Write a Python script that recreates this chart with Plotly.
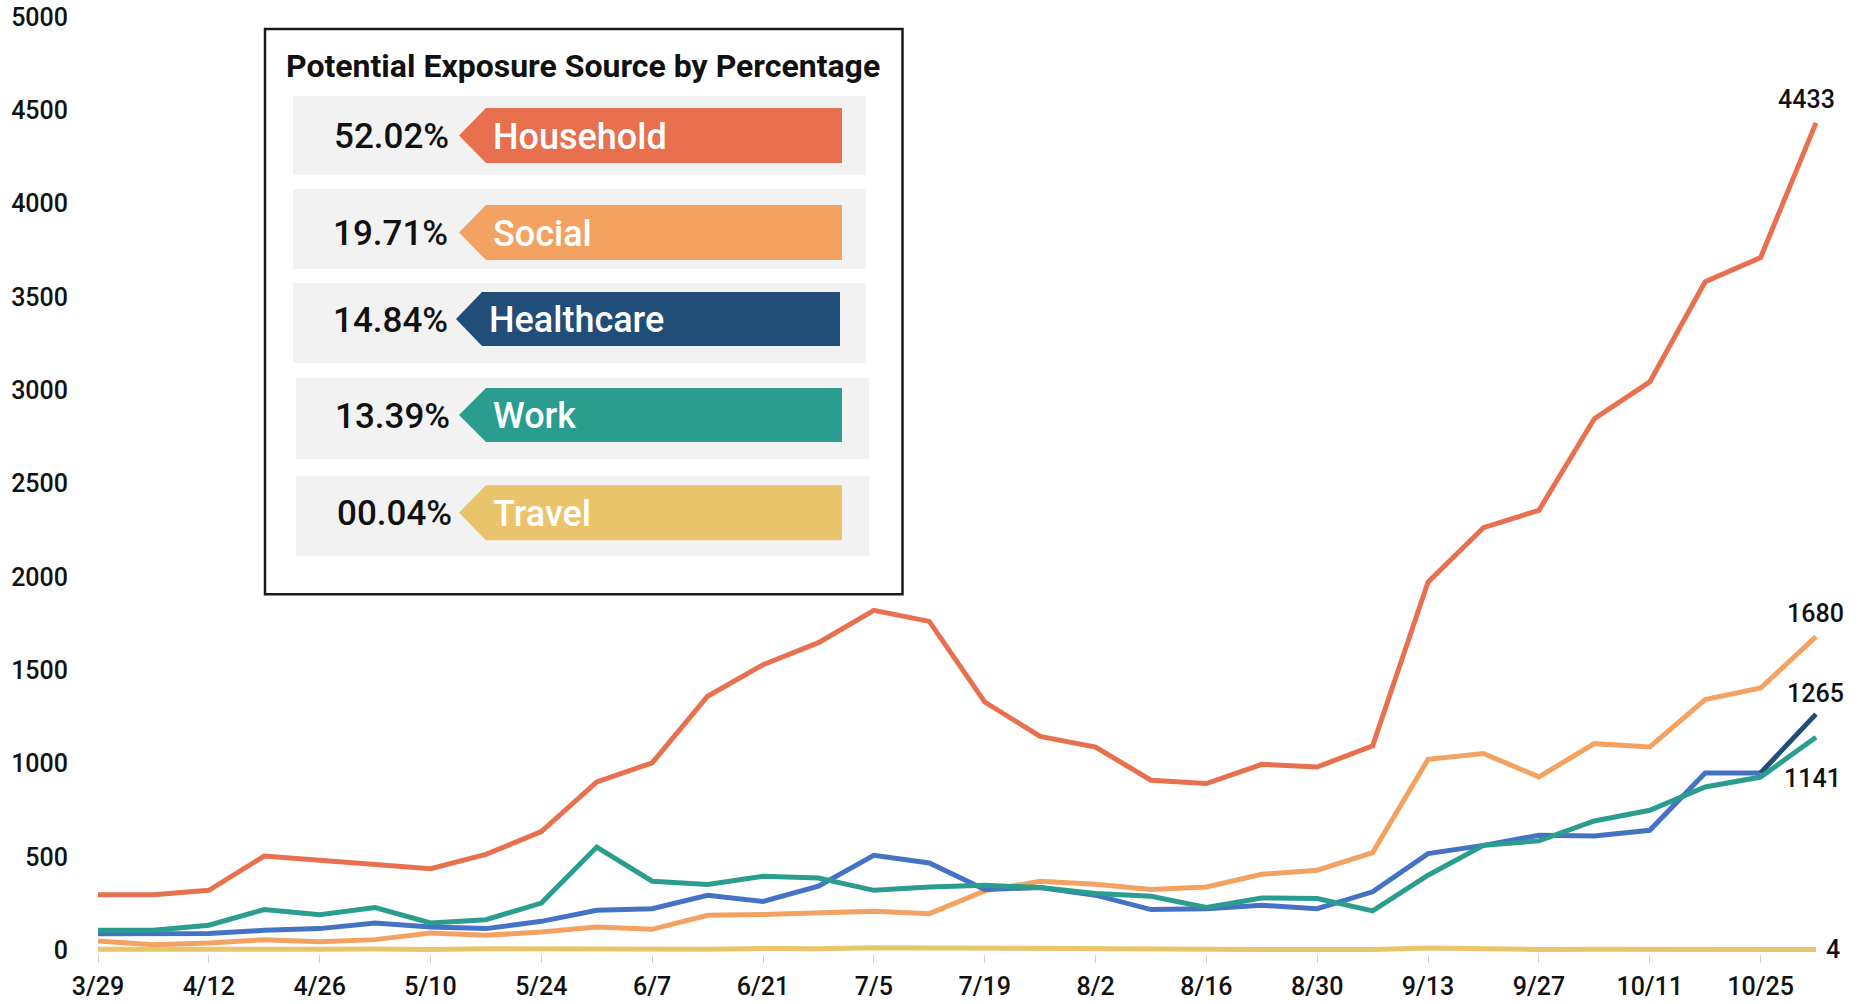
import plotly.graph_objects as go

# ---------------- data ----------------
weeks = ["3/29", "4/5", "4/12", "4/19", "4/26", "5/3", "5/10", "5/17", "5/24", "5/31",
         "6/7", "6/14", "6/21", "6/28", "7/5", "7/12", "7/19", "7/26", "8/2", "8/9",
         "8/16", "8/23", "8/30", "9/6", "9/13", "9/20", "9/27", "10/4", "10/11", "10/18",
         "10/25", "11/1"]
tick_weeks = ["3/29", "4/12", "4/26", "5/10", "5/24", "6/7", "6/21", "7/5", "7/19", "8/2",
              "8/16", "8/30", "9/13", "9/27", "10/11", "10/25"]

household = [298, 298, 321, 505, 482, 461, 437, 514, 636, 902, 1004, 1361, 1530, 1648, 1821, 1762,
             1330, 1146, 1089, 911, 893, 996, 982, 1095, 1973, 2264, 2357, 2848, 3045, 3582, 3711, 4433]
social = [50, 30, 39, 57, 45, 57, 93, 80, 98, 125, 112, 187, 191, 200, 209, 196,
          318, 370, 354, 325, 339, 407, 429, 523, 1023, 1054, 929, 1107, 1089, 1343, 1405, 1680]
healthcare = [89, 89, 90, 107, 116, 146, 125, 116, 155, 214, 223, 295, 262, 343, 509, 468,
              325, 336, 295, 218, 223, 241, 223, 313, 518, 562, 616, 612, 643, 950, 950, 1265]
work = [107, 107, 134, 218, 191, 229, 146, 164, 253, 553, 370, 352, 396, 387, 321, 339,
        348, 336, 304, 289, 229, 280, 277, 211, 402, 562, 586, 693, 750, 875, 928, 1141]
travel = [5, 4, 5, 6, 5, 7, 4, 8, 7, 10, 8, 5, 10, 8, 14, 12,
          9, 7, 5, 5, 6, 4, 4, 4, 12, 5, 4, 6, 5, 4, 5, 4]

legend_names = ["Household", "Social", "Healthcare", "Work", "Travel"]
legend_pcts = ["52.02%", "19.71%", "14.84%", "13.39%", "00.04%"]
legend_title = "Potential Exposure Source by Percentage"

# ---------------- styles ----------------
FONT = "Roboto"
C_HOUSE = "#E8704F"
C_SOCIAL = "#F4A261"
C_HEALTH_LINE = "#4472C4"
C_HEALTH_DARK = "#214E78"
C_WORK = "#2A9D8F"
C_TRAVEL = "#E9C46A"
TAG_COLORS = [C_HOUSE, C_SOCIAL, C_HEALTH_DARK, C_WORK, C_TRAVEL]

W, H = 1860, 1004
Y_MIN, Y_MAX = -20, 5000
ZERO_PX, TOP_PX = 950, 17
unit_px = (ZERO_PX - TOP_PX) / Y_MAX
L, R, T = 75, 1822, TOP_PX
B = ZERO_PX + (-Y_MIN) * unit_px
X0_PX, XN_PX = 98, 1816
n = len(weeks)
px_per = (XN_PX - X0_PX) / (n - 1)
x_range = [-(X0_PX - L) / px_per, (n - 1) + (R - XN_PX) / px_per]


def px(x):
    return (x - L) / (R - L)


def py(y):
    return (B - y) / (B - T)


fig = go.Figure()
LW = 5
fig.add_trace(go.Scatter(x=weeks, y=travel, mode="lines", line=dict(color=C_TRAVEL, width=LW), name="Travel"))
fig.add_trace(go.Scatter(x=weeks, y=social, mode="lines", line=dict(color=C_SOCIAL, width=LW), name="Social"))
fig.add_trace(go.Scatter(x=weeks[:-1], y=healthcare[:-1], mode="lines", line=dict(color=C_HEALTH_LINE, width=LW), name="Healthcare"))
fig.add_trace(go.Scatter(x=weeks[-2:], y=healthcare[-2:], mode="lines", line=dict(color=C_HEALTH_DARK, width=LW), name="Healthcare end"))
fig.add_trace(go.Scatter(x=weeks, y=work, mode="lines", line=dict(color=C_WORK, width=LW), name="Work"))
fig.add_trace(go.Scatter(x=weeks, y=household, mode="lines", line=dict(color=C_HOUSE, width=LW), name="Household"))

# end-value labels
end_specs = [(household, -10, 23), (social, -1, 23), (healthcare, -1, 21), (work, -4, -41), (travel, 17, 0)]
for series, xs, ys in end_specs:
    fig.add_annotation(x=weeks[-1], y=series[-1], xref="x", yref="y", text=str(series[-1]),
                       showarrow=False, xshift=xs, yshift=ys,
                       font=dict(family=FONT, size=25, color="#111111", weight=500))

shapes = []
annots = []
# legend box
shapes.append(dict(type="rect", xref="paper", yref="paper", x0=px(265), x1=px(902.5), y0=py(594), y1=py(29),
                   line=dict(color="#1a1a1a", width=2.5), fillcolor="white", layer="above"))
annots.append(dict(x=px(583), y=py(66), xref="paper", yref="paper", text="<b>" + legend_title + "</b>",
                   showarrow=False, xanchor="center", yanchor="middle",
                   font=dict(family=FONT, size=32, color="#111111")))

rows = [  # bg x0, x1, y0, y1, tag tip, body left, right, top, bottom
    (293, 866, 96, 175, 459, 486, 842, 108, 163),
    (293, 866, 189, 269, 459, 486, 842, 205, 260),
    (293, 866, 283, 363, 456, 482, 840, 292, 346),
    (296, 869, 378, 459, 459, 486, 842, 388, 442),
    (296, 869, 476, 556, 459, 486, 842, 485, 540),
]
pct_left = [332, 331, 331, 333, 335]
for i, (bx0, bx1, by0, by1, tip, bl, rr, tt, bb) in enumerate(rows):
    shapes.append(dict(type="rect", xref="paper", yref="paper", x0=px(bx0), x1=px(bx1), y0=py(by1), y1=py(by0),
                       line=dict(width=0), fillcolor="#F2F2F2", layer="above"))
    mid = (tt + bb) / 2
    path = (f"M {px(tip)},{py(mid)} L {px(bl)},{py(tt)} L {px(rr)},{py(tt)} "
            f"L {px(rr)},{py(bb)} L {px(bl)},{py(bb)} Z")
    shapes.append(dict(type="path", xref="paper", yref="paper", path=path,
                       line=dict(width=0), fillcolor=TAG_COLORS[i], layer="above"))
    annots.append(dict(x=px(pct_left[i]), y=py(mid + 1), xref="paper", yref="paper", text=legend_pcts[i],
                       showarrow=False, xanchor="left", yanchor="middle",
                       font=dict(family=FONT, size=35, color="#111111", weight=500)))
    annots.append(dict(x=px(bl + 5), y=py(mid + 1), xref="paper", yref="paper", text=legend_names[i],
                       showarrow=False, xanchor="left", yanchor="middle",
                       font=dict(family=FONT, size=36, color="white", weight=500)))

for a in annots:
    fig.add_annotation(**a)

fig.update_layout(
    width=W, height=H,
    margin=dict(l=L, r=W - R, t=T, b=H - B, autoexpand=False),
    paper_bgcolor="white", plot_bgcolor="white",
    showlegend=False,
    shapes=shapes,
    font=dict(family=FONT, color="#111111"),
)
fig.update_xaxes(type="category", range=x_range, tickmode="array", tickvals=tick_weeks, ticktext=tick_weeks,
                 showgrid=False, zeroline=False, showline=False, automargin=False,
                 ticks="outside", ticklen=8, tickwidth=1, tickcolor="#CFCFCF",
                 tickfont=dict(family=FONT, size=25, color="#111111", weight=500), ticklabelstandoff=2)
fig.update_yaxes(range=[Y_MIN, Y_MAX], tickmode="array", tickvals=list(range(0, 5001, 500)),
                 showgrid=False, zeroline=False, showline=False, ticks="", automargin=False,
                 tickfont=dict(family=FONT, size=25, color="#111111", weight=500), ticklabelstandoff=6)

fig.write_html("out.html", config={"displayModeBar": False},
               post_script="document.body.style.margin='0';document.body.style.overflow='hidden';")
